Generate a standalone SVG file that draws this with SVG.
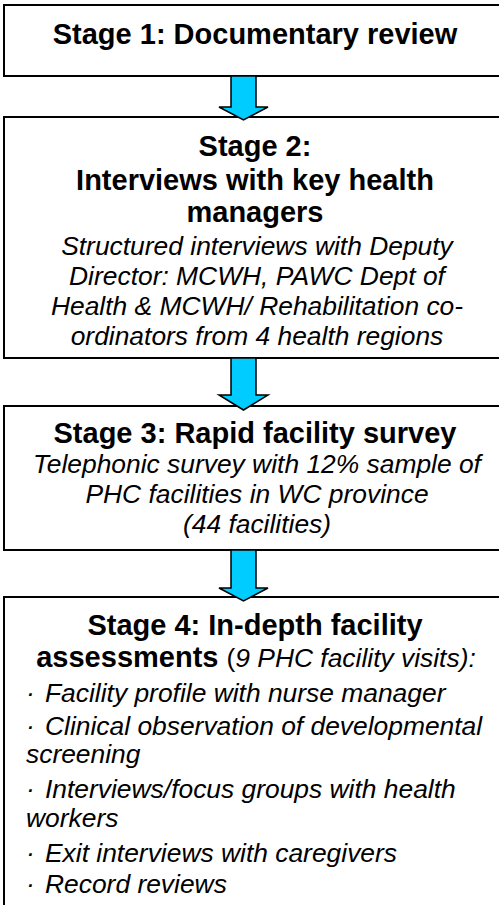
<svg xmlns="http://www.w3.org/2000/svg" width="499" height="905" viewBox="0 0 499 905">
<style>
.box{fill:#fff;stroke:#000;stroke-width:2}
.arrow{fill:#00CCFF;stroke:#000;stroke-width:1.5;stroke-linejoin:miter}
text{font-family:"Liberation Sans",Arial,sans-serif;fill:#000}
.b{font-size:29px;font-weight:bold;text-anchor:middle}
.i{font-size:26.4px;font-style:italic;text-anchor:middle}
.l{font-size:26.4px;font-style:italic}
</style>
<g id="stage1">
<rect class="box" x="4" y="5" width="510" height="71"/>
<text class="b" x="255" y="44">Stage 1: Documentary review</text>
</g>
<g id="stage2">
<rect class="box" x="4" y="117" width="510" height="241"/>
<text class="b" x="255" y="156">Stage 2:</text>
<text class="b" x="255" y="190">Interviews with key health</text>
<text class="b" x="255" y="222">managers</text>
<text class="i" x="257" y="255">Structured interviews with Deputy</text>
<text class="i" x="257" y="285">Director: MCWH, PAWC Dept of</text>
<text class="i" x="257" y="315">Health &amp; MCWH/ Rehabilitation co-</text>
<text class="i" x="257" y="345">ordinators from 4 health regions</text>
</g>
<g id="stage3">
<rect class="box" x="4" y="406" width="510" height="144"/>
<text class="b" x="255" y="443">Stage 3: Rapid facility survey</text>
<text class="i" x="257" y="473">Telephonic survey with 12% sample of</text>
<text class="i" x="257" y="503">PHC facilities in WC province</text>
<text class="i" x="257" y="533">(44 facilities)</text>
</g>
<g id="stage4">
<rect class="box" x="4" y="597" width="510" height="320"/>
<text class="b" x="255" y="635">Stage 4: In-depth facility</text>
<text x="256" y="667" text-anchor="middle"><tspan font-size="29" font-weight="bold">assessments </tspan><tspan font-size="26.4">(</tspan><tspan font-size="26.4" font-style="italic">9 PHC facility visits):</tspan></text>
<text class="l" x="26" y="702">·<tspan x="45">Facility profile with nurse manager</tspan></text>
<text class="l" x="26" y="735">·<tspan x="45">Clinical observation of developmental</tspan></text>
<text class="l" x="26" y="763">screening</text>
<text class="l" x="26" y="798">·<tspan x="45">Interviews/focus groups with health</tspan></text>
<text class="l" x="26" y="827">workers</text>
<text class="l" x="26" y="862">·<tspan x="45">Exit interviews with caregivers</tspan></text>
<text class="l" x="26" y="893">·<tspan x="45">Record reviews</tspan></text>
</g>
<g id="connectors">
<path class="arrow" d="M231 76 L256 76 L256 107 L268 107 L243.5 120 L219 107 L231 107 Z"/>
<path class="arrow" d="M231 358 L256 358 L256 395 L268 395 L243.5 410 L219 395 L231 395 Z"/>
<path class="arrow" d="M231 550 L256 550 L256 588 L268 588 L243.5 601 L219 588 L231 588 Z"/>
</g>
</svg>
